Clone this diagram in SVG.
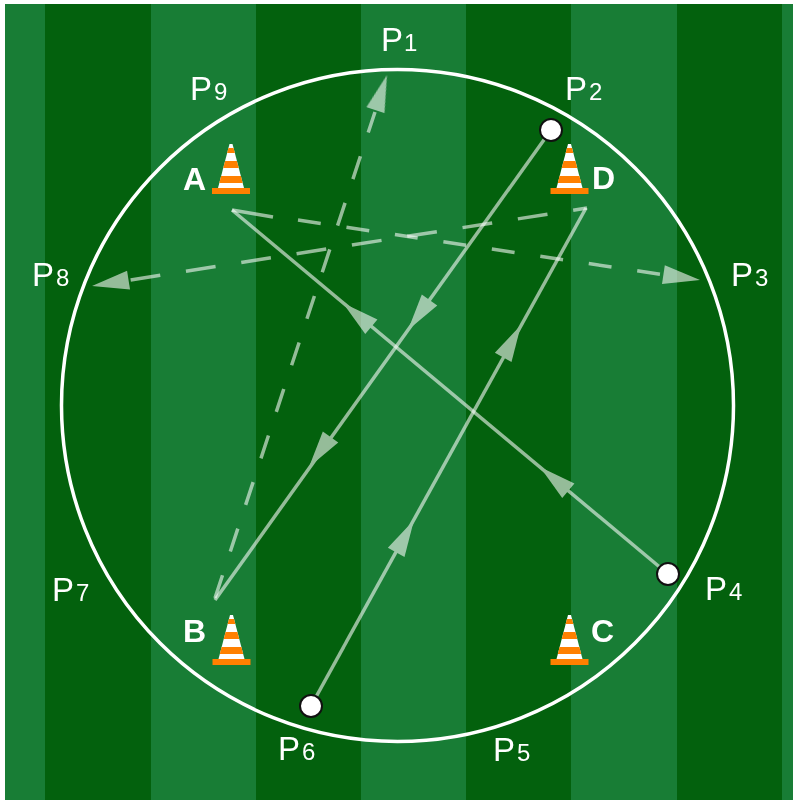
<svg xmlns="http://www.w3.org/2000/svg" width="798" height="804" viewBox="0 0 798 804">
<style>
.lab{font-family:"Liberation Sans",Arial,sans-serif;fill:#fff}
.p{font-size:33px}.s{font-size:24px}
.c{font-family:"Liberation Sans",Arial,sans-serif;fill:#fff;font-size:32px;font-weight:bold}
.conn{opacity:.58}
.ln{fill:none;stroke:#fff;stroke-width:3.5}
.d1{stroke-dasharray:24 25}
.d2{stroke-dasharray:30 26;stroke-dashoffset:16}
.d3{stroke-dasharray:23 26}
.ah{fill:#fff}
.pt{fill:#fff;stroke:#111;stroke-width:2}
</style>
<defs>
<g id="cone">
<polygon points="-1.5,-50 1.5,-50 13,-6 -13,-6" fill="#fff"/>
<path d="M-2.5,-46L2.5,-46L3.9,-41L-3.9,-41ZM-5.9,-33L5.9,-33L7.8,-26L-7.8,-26ZM-9.9,-18L9.9,-18L11.7,-11L-11.7,-11Z" fill="#ff8000"/>
<rect x="-19" y="-6" width="38" height="6" fill="#ff8000"/>
</g>
<polygon id="ah" points="0,0 -37,-9.5 -37,9.5" class="ah"/>
</defs>
<rect x="5" y="4" width="788" height="796" fill="#187d35"/>
<g fill="#03610d">
<rect x="45" y="4" width="106" height="796"/>
<rect x="256" y="4" width="105" height="796"/>
<rect x="466" y="4" width="105" height="796"/>
<rect x="677" y="4" width="105" height="796"/>
</g>
<circle cx="397.5" cy="405.5" r="336" fill="none" stroke="#fff" stroke-width="3.5"/>
<g id="connectors">
<g class="conn"><path class="ln" d="M551,130L215,600"/>
<use href="#ah" transform="translate(408,330) rotate(125.6)"/>
<use href="#ah" transform="translate(309,467) rotate(125.6)"/></g>
<g class="conn"><path class="ln d1" d="M215,598L375,112"/>
<use href="#ah" transform="translate(387,75) rotate(-71.8)"/></g>
<g class="conn"><path class="ln" d="M232,210L273,217"/><path class="ln d3" d="M298,220L662,274.5"/>
<use href="#ah" transform="translate(700,280) rotate(8.5)"/></g>
<g class="conn"><path class="ln d2" d="M587,208L130,280"/>
<use href="#ah" transform="translate(92,286) rotate(171)"/></g>
<g class="conn"><path class="ln" d="M668,574L232,210"/>
<use href="#ah" transform="translate(540,467) rotate(-140)"/>
<use href="#ah" transform="translate(343,303) rotate(-140)"/></g>
<g class="conn"><path class="ln" d="M311,706L586,208"/>
<use href="#ah" transform="translate(414,520) rotate(-61.2)"/>
<use href="#ah" transform="translate(521,325) rotate(-61.2)"/></g>
</g>
<g id="cone-A"><use href="#cone" x="231" y="194"/><text class="c" x="183" y="190">A</text></g>
<g id="cone-B"><use href="#cone" x="231.5" y="665"/><text class="c" x="183" y="642">B</text></g>
<g id="cone-C"><use href="#cone" x="569.5" y="665"/><text class="c" x="591" y="642">C</text></g>
<g id="cone-D"><use href="#cone" x="569.5" y="194"/><text class="c" x="592" y="189">D</text></g>
<g id="pt-P2"><circle class="pt" cx="551" cy="130" r="11"/></g>
<g id="pt-P4"><circle class="pt" cx="668" cy="574" r="11"/></g>
<g id="pt-P6"><circle class="pt" cx="311" cy="706" r="11"/></g>
<g id="label-P1"><text class="lab p" x="381" y="51">P<tspan class="s" dx="1">1</tspan></text></g>
<g id="label-P2"><text class="lab p" x="565" y="100">P<tspan class="s" dx="2">2</tspan></text></g>
<g id="label-P3"><text class="lab p" x="731" y="286">P<tspan class="s" dx="2">3</tspan></text></g>
<g id="label-P4"><text class="lab p" x="705" y="600">P<tspan class="s" dx="2">4</tspan></text></g>
<g id="label-P5"><text class="lab p" x="493" y="761">P<tspan class="s" dx="2">5</tspan></text></g>
<g id="label-P6"><text class="lab p" x="278" y="760">P<tspan class="s" dx="2">6</tspan></text></g>
<g id="label-P7"><text class="lab p" x="52" y="601">P<tspan class="s" dx="2">7</tspan></text></g>
<g id="label-P8"><text class="lab p" x="32" y="286">P<tspan class="s" dx="2">8</tspan></text></g>
<g id="label-P9"><text class="lab p" x="190" y="100">P<tspan class="s" dx="2">9</tspan></text></g>
</svg>
